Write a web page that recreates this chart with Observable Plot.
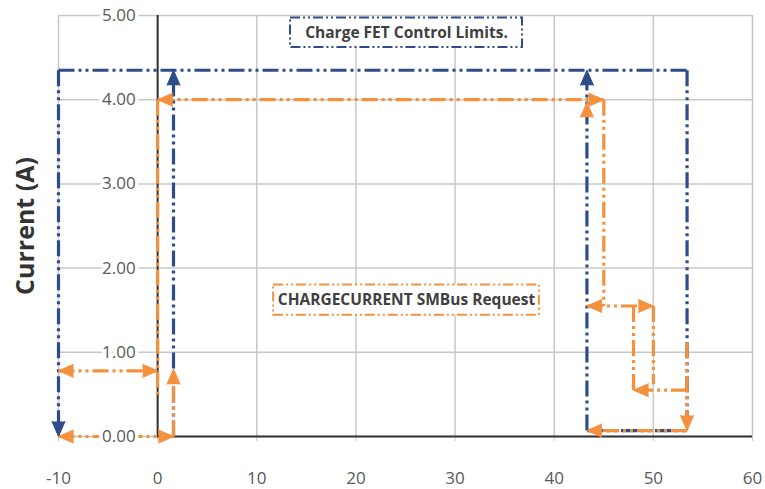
<!DOCTYPE html>
<html><head><meta charset="utf-8">
<script src="https://cdn.jsdelivr.net/npm/d3@7"></script>
<script src="https://cdn.jsdelivr.net/npm/@observablehq/plot@0.6"></script>
<style>body{margin:0;background:#fff}</style>
</head><body><div id="chart"></div>
<script>
// Axis ticks
const xTicks = [-10, 0, 10, 20, 30, 40, 50, 60];
const yTicks = [0, 1, 2, 3, 4, 5];

// Charge FET Control Limits (blue): segments [x1, y1, x2, y2]
const fetSegments = [
  [-10, 4.35, 53.4, 4.35],
  [-10, 4.35, -10, 0],
  [53.4, 4.35, 53.4, 0.07],
  [1.6, 0, 1.6, 4.35],
  [43.3, 0.07, 43.3, 4.35],
  [43.3, 0.07, 53.4, 0.07]
];
// arrowheads [x, y, direction]
const fetArrows = [
  [-10, 0, "down"],
  [1.6, 4.35, "up"],
  [43.3, 4.35, "up"]
];

// CHARGECURRENT SMBus Request (orange)
const reqSegments = [
  [0, 4.0, 45, 4.0],
  [0, 4.0, 0, 0.5],
  [-10, 0.78, 0, 0.78],
  [-10, 0, 1.6, 0],
  [1.6, 0, 1.6, 0.8],
  [45, 4.0, 45, 1.55],
  [43.3, 1.55, 50, 1.55],
  [48, 1.55, 48, 0.55],
  [50, 1.55, 50, 0.62],
  [53.4, 0.55, 48, 0.55],
  [53.4, 1.12, 53.4, 0.07],
  [53.4, 0.07, 43.3, 0.07]
];
const reqArrows = [
  [0, 4.0, "left"], [45, 4.0, "right"],
  [-10, 0.78, "left"], [0, 0.78, "right"],
  [-10, 0, "left"], [1.6, 0, "right"],
  [1.6, 0.8, "up"], [43.3, 3.97, "up"],
  [43.3, 1.55, "left"], [50, 1.55, "right"],
  [48, 0.55, "left"], [53.4, 0.07, "down"],
  [43.3, 0.07, "left"]
];

// Annotation boxes (data coordinates)
const noteTexts = ["Charge FET Control Limits.", "CHARGECURRENT SMBus Request"];
const noteX = [[13.4, 36.8], [11.7, 38.5]];
const noteY = [[4.62, 4.97], [1.44, 1.80]];

const yTitle = "Current (A)";

const BLUE = "#2F4C8A";
const ORANGE = "#F5903D";
const DASH = "16,4,3,4,3,4";

const dirAngle = {up: 0, right: 90, down: 180, left: 270};
const toSeg = s => ({x1: s[0], y1: s[1], x2: s[2], y2: s[3]});
const toArrow = a => ({x: a[0], y: a[1], angle: dirAngle[a[2]]});
const notes = noteTexts.map((t, i) => ({
  text: t, x1: noteX[i][0], x2: noteX[i][1], y1: noteY[i][0], y2: noteY[i][1],
  cx: (noteX[i][0] + noteX[i][1]) / 2, cy: (noteY[i][0] + noteY[i][1]) / 2,
  color: i === 0 ? BLUE : ORANGE
}));

const arrowMark = (data, color) => Plot.vector(data.map(toArrow), {
  x: "x", y: "y", rotate: "angle", length: 15, r: 6.5,
  shape: "spike", anchor: "end", fill: color, stroke: color, strokeWidth: 1
});

const chart = Plot.plot({
  width: 765, height: 489,
  marginLeft: 58, marginRight: 13, marginTop: 15, marginBottom: 53,
  x: {domain: [-10, 60]},
  y: {domain: [0, 5], axis: null},
  style: {fontFamily: "'Open Sans', sans-serif", fontSize: "17px", color: "#595959", background: "white"},
  marks: [
    Plot.gridX(xTicks, {stroke: "#c8c8c8", strokeOpacity: 1, strokeWidth: 1.5}),
    Plot.gridY(yTicks, {stroke: "#c8c8c8", strokeOpacity: 1, strokeWidth: 1.5}),
    Plot.axisX(xTicks, {tickSize: 5, tickPadding: 30, stroke: "#c8c8c8", fill: "#595959", fontSize: 17, tickFormat: d => String(d)}),
    Plot.ruleY([0], {x1: 0, x2: 60, stroke: "#333", strokeWidth: 2}),
    Plot.ruleX([0], {y1: 0, y2: 5, stroke: "#333", strokeWidth: 2}),
    Plot.link(fetSegments.map(toSeg), {x1: "x1", y1: "y1", x2: "x2", y2: "y2", stroke: BLUE, strokeWidth: 3.2, strokeDasharray: DASH}),
    Plot.link(reqSegments.map(toSeg), {x1: "x1", y1: "y1", x2: "x2", y2: "y2", stroke: ORANGE, strokeWidth: 3.2, strokeDasharray: DASH}),
    arrowMark(fetArrows, BLUE),
    arrowMark(reqArrows, ORANGE),
    Plot.rect(notes, {x1: "x1", x2: "x2", y1: "y1", y2: "y2", fill: "white", stroke: "color", strokeWidth: 2, strokeDasharray: "10,3,2,3,2,3"}),
    Plot.text(notes, {x: "cx", y: "cy", text: "text", fontWeight: "bold", fontSize: 15.5, fill: "#404040"}),
    Plot.text(yTicks, {x: 0, y: d => d, text: d => d.toFixed(2), textAnchor: "end", dx: -22, fill: "#595959", stroke: "white", strokeWidth: 7, fontSize: 17}),
    Plot.text([yTitle], {frameAnchor: "left", rotate: -90, textAnchor: "middle", dx: -33, fontSize: 25, fontWeight: "bold", fill: "#333"})
  ]
});
document.getElementById("chart").appendChild(chart);
</script>
</body></html>
